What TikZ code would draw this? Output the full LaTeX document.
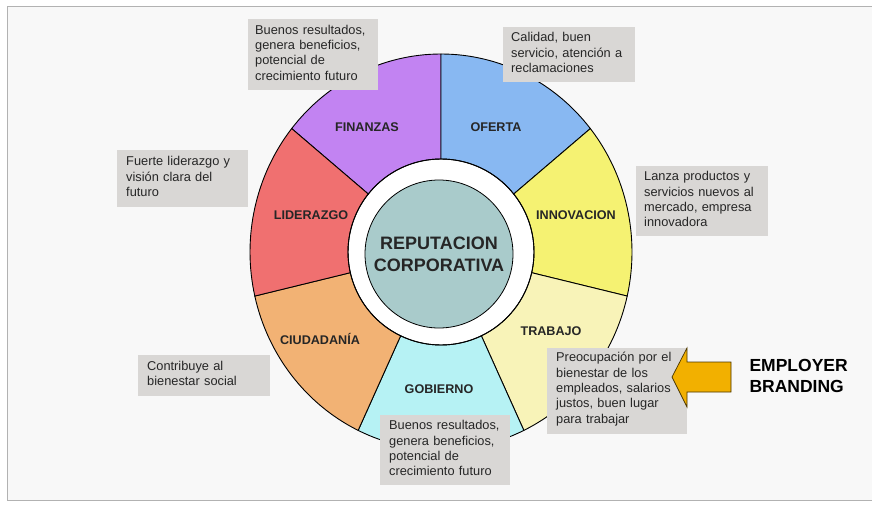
\documentclass[tikz,border=0pt]{standalone}
\usepackage{fontspec}
\setmainfont{Liberation Sans}
\begin{document}
\begin{tikzpicture}[x=1pt,y=-1pt,
  infobox/.style={fill=boxgray, anchor=north west, inner sep=0pt, align=left, font=\fontsize{12.8}{15.3}\selectfont, text=black!85},
  seglabel/.style={font=\bfseries\fontsize{12.6}{14}\selectfont, text=black!85},
  seg/.style={draw=black, line width=0.9pt}]
\definecolor{boxgray}{HTML}{D9D7D5}
\definecolor{cfin}{HTML}{C283F2}
\definecolor{cofe}{HTML}{88B8F2}
\definecolor{cinn}{HTML}{F5F272}
\definecolor{ctra}{HTML}{F8F3B8}
\definecolor{cgob}{HTML}{B6F2F4}
\definecolor{cciu}{HTML}{F2B274}
\definecolor{clid}{HTML}{F07070}
\definecolor{cmid}{HTML}{A9CBCB}
\definecolor{carrow}{HTML}{F2B000}
\useasboundingbox (0,0) rectangle (872,506);
\fill[white] (0,0) rectangle (872,506);
\draw[fill={rgb,255:red,248;green,248;blue,248}, draw=black!30, line width=0.8pt] (7,6) rectangle (885,500);
% wheel
\begin{scope}[shift={(441,252)}, y=1pt]
\foreach \a/\b/\c in {90/141.43/cfin, 38.57/90/cofe, -12.86/38.57/cinn, -64.29/-12.86/ctra, -115.71/-64.29/cgob, -167.14/-115.71/cciu, -218.57/-167.14/clid}{
  \filldraw[seg, fill=\c] (\a:93) -- (\a:191 and 198) arc[start angle=\a, end angle=\b, x radius=191, y radius=198] -- (\b:93) arc[start angle=\b, end angle=\a, radius=93] -- cycle;
}
\fill[white] (0,0) circle (92);
\draw[line width=0.9pt] (0,0) circle (93);
\node[circle, draw=black, line width=0.8pt, fill=cmid, minimum size=148pt, inner sep=0pt, align=center, font=\bfseries\fontsize{18}{22}\selectfont, text=black!85] (mid) at (-2,-2) {REPUTACION\\CORPORATIVA};
\end{scope}
\node[seglabel] (lfin) at (367,127) {FINANZAS};
\node[seglabel] (lofe) at (496,127) {OFERTA};
\node[seglabel] (linn) at (576,215) {INNOVACION};
\node[seglabel] (ltra) at (551,331) {TRABAJO};
\node[seglabel] (lgob) at (439,389) {GOBIERNO};
\node[seglabel] (lciu) at (320,339) {CIUDADANÍA};
\node[seglabel] (llid) at (311,215) {LIDERAZGO};
% boxes
\node[infobox, minimum width=130pt, minimum height=71pt, text width=130pt] (bfin) at (248,19) {\hspace*{7pt}\parbox[t]{120pt}{\vspace{-4pt}Buenos resultados,\\genera beneficios,\\potencial de\\crecimiento futuro}};
\node[infobox, minimum width=132pt, minimum height=55pt, text width=132pt] (bofe) at (503,27) {\hspace*{8pt}\parbox[t]{122pt}{\vspace{-4pt}Calidad, buen\\servicio, atención a\\reclamaciones}};
\node[infobox, minimum width=132pt, minimum height=70pt, text width=132pt] (binn) at (636,166) {\hspace*{8pt}\parbox[t]{122pt}{\vspace{-4pt}Lanza productos y\\servicios nuevos al\\mercado, empresa\\innovadora}};
\node[infobox, minimum width=131pt, minimum height=57pt, text width=131pt] (blid) at (117,150) {\hspace*{9pt}\parbox[t]{120pt}{\vspace{-4pt}Fuerte liderazgo y\\visión clara del\\futuro}};
\node[infobox, minimum width=132pt, minimum height=41pt, text width=132pt] (bciu) at (138,355) {\hspace*{9pt}\parbox[t]{120pt}{\vspace{-4pt}Contribuye al\\bienestar social}};
\node[infobox, minimum width=130pt, minimum height=70pt, text width=130pt] (bgob) at (380,415) {\hspace*{9pt}\parbox[t]{120pt}{\vspace{-4pt}Buenos resultados,\\genera beneficios,\\potencial de\\crecimiento futuro}};
\node[infobox, minimum width=140pt, minimum height=86pt, text width=140pt] (btra) at (547,348) {\hspace*{9pt}\parbox[t]{130pt}{\vspace{-4pt}Preocupación por el\\bienestar de los\\empleados, salarios\\justos, buen lugar\\para trabajar}};
% arrow
\coordinate (tip) at (672,377);
\filldraw[fill=carrow, draw=black!70!carrow, line width=0.7pt] (tip) -- (687,348) -- (687,362) -- (731,362) -- (731,392) -- (687,392) -- (687,407) -- cycle;
\node[anchor=west, align=left, font=\bfseries\fontsize{17.5}{21}\selectfont] (eb) at (746,376) {EMPLOYER\\BRANDING};
\end{tikzpicture}
\end{document}
